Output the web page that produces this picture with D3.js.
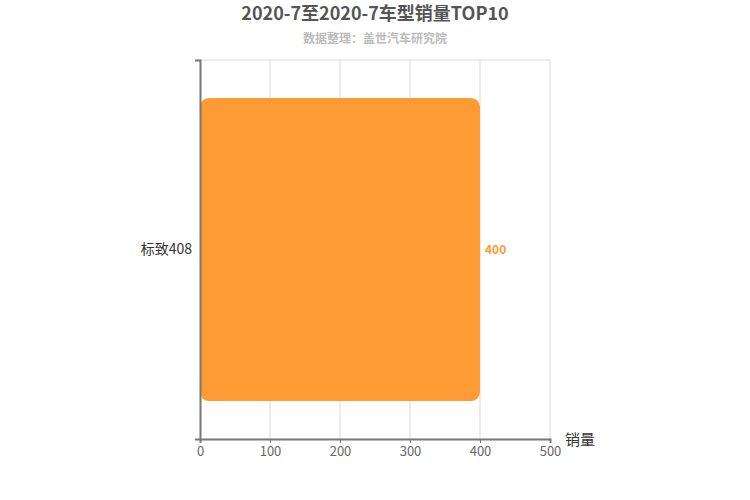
<!DOCTYPE html>
<html>
<head>
<meta charset="utf-8">
<script src="https://cdn.jsdelivr.net/npm/d3@7/dist/d3.min.js"></script>
<style>
  body { margin: 0; background: #fff; }
  text { font-family: "Microsoft YaHei", "Noto Sans CJK SC", sans-serif; }
</style>
</head>
<body>
<div id="chart"></div>
<script>
const categories = ['标致408'];
const sales = [400];
const xTicks = [0, 100, 200, 300, 400, 500];

const svgWidth = 750;
const svgHeight = 500;

// plot area in pixels
const margin = { top: 60, right: 200, bottom: 61, left: 200 };
const chartWidth = svgWidth - margin.left - margin.right;
const chartHeight = svgHeight - margin.top - margin.bottom;

const svg = d3.select('#chart')
  .append('svg')
  .attr('width', svgWidth)
  .attr('height', svgHeight);

// title and subtitle
svg.append('text')
  .attr('x', svgWidth / 2).attr('y', 20)
  .attr('text-anchor', 'middle')
  .style('font-size', '18px').style('font-weight', 'bold').style('fill', '#555')
  .text('2020-7至2020-7车型销量TOP10');
svg.append('text')
  .attr('x', svgWidth / 2).attr('y', 43)
  .attr('text-anchor', 'middle')
  .style('font-size', '12px').style('font-weight', 'bold').style('fill', '#bbb')
  .text('数据整理：盖世汽车研究院');

const x = d3.scaleLinear().domain([0, 500]).range([0, chartWidth]);
const y = d3.scaleBand().domain(categories).range([0, chartHeight]).paddingInner(0.2).paddingOuter(0.1);

const g = svg.append('g').attr('transform', `translate(${margin.left},${margin.top})`);

// vertical grid lines
g.append('g').selectAll('line')
  .data(xTicks.slice(1))
  .join('line')
  .attr('x1', d => x(d)).attr('x2', d => x(d))
  .attr('y1', 0).attr('y2', chartHeight)
  .attr('stroke', '#d9d9d9');
g.append('line')
  .attr('x1', 0).attr('x2', chartWidth).attr('y1', 0).attr('y2', 0)
  .attr('stroke', '#d9d9d9');

// bars
g.selectAll('rect.bar')
  .data(sales)
  .join('rect')
  .attr('class', 'bar')
  .attr('x', x(0))
  .attr('y', (d, i) => y(categories[i]))
  .attr('width', d => x(d) - x(0))
  .attr('height', y.bandwidth())
  .attr('rx', 9).attr('ry', 9)
  .attr('fill', '#fe9b34');

// value labels
g.selectAll('text.val')
  .data(sales)
  .join('text')
  .attr('class', 'val')
  .attr('x', d => x(d) + 5)
  .attr('y', (d, i) => y(categories[i]) + y.bandwidth() / 2)
  .attr('dy', '0.35em')
  .style('font-size', '12px').style('font-weight', 'bold').style('fill', '#fe9b34')
  .text(d => d);

// x axis
const xAxis = g.append('g')
  .attr('transform', `translate(0,${chartHeight})`)
  .call(d3.axisBottom(x).tickValues(xTicks).tickSize(4).tickPadding(4));
xAxis.select('.domain').attr('stroke', '#777').attr('stroke-width', 2);
xAxis.selectAll('.tick line').attr('stroke', '#777');
xAxis.selectAll('.tick text').style('font-size', '13px').style('fill', '#666');

// y axis
const yBand = d3.scaleLinear().domain([0, 1]).range([0, chartHeight]);
const yAxis = g.append('g')
  .call(d3.axisLeft(yBand).tickValues([0, 1]).tickSize(5).tickFormat(''));
yAxis.select('.domain').attr('stroke', '#777').attr('stroke-width', 2);
yAxis.selectAll('.tick line').attr('stroke', '#777');

g.selectAll('text.cat')
  .data(categories)
  .join('text')
  .attr('class', 'cat')
  .attr('x', -8)
  .attr('y', d => y(d) + y.bandwidth() / 2)
  .attr('dy', '0.35em')
  .attr('text-anchor', 'end')
  .style('font-size', '14px').style('fill', '#333')
  .text(d => d);

// axis name
svg.append('text')
  .attr('x', margin.left + chartWidth + 15)
  .attr('y', margin.top + chartHeight + 6)
  .style('font-size', '15px').style('fill', '#333')
  .text('销量');
</script>
</body>
</html>
